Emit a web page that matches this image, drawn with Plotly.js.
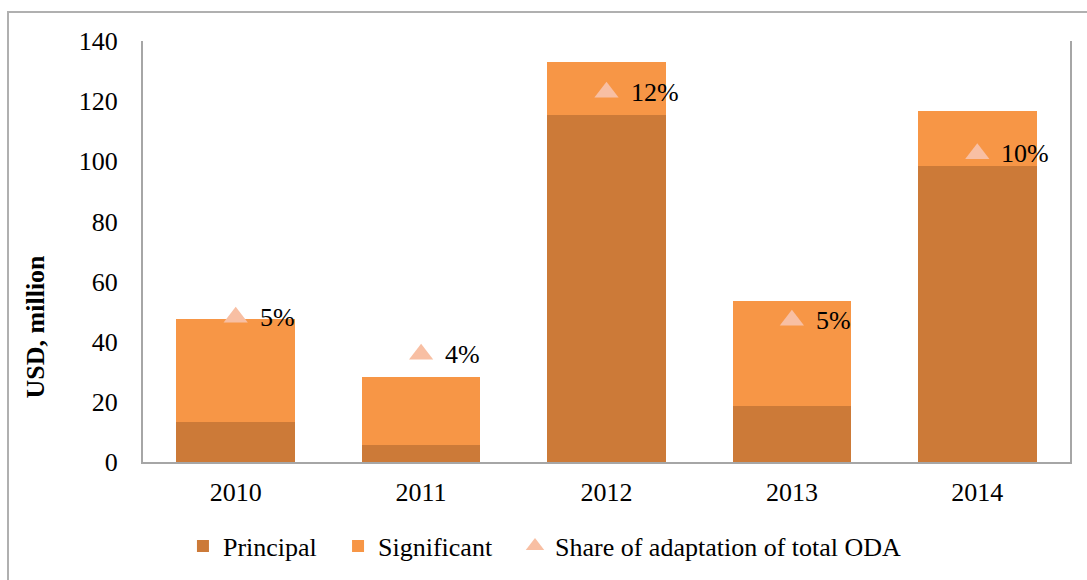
<!DOCTYPE html>
<html>
<head>
<meta charset="utf-8">
<script src="https://cdn.plot.ly/plotly-3.0.1.min.js"></script>
<style>
  html, body { margin: 0; padding: 0; background: #fff; }
  #wrap { position: relative; width: 1087px; height: 580px; overflow: hidden; }
  #frame { position: absolute; left: 7px; top: 11px; width: 1200px; height: 700px; border: 2px solid #B0B0B0; box-sizing: border-box; }
  #chart { position: absolute; left: 0; top: 0; width: 1087px; height: 580px; }
</style>
</head>
<body>
<div id="wrap">
  <div id="frame"></div>
  <div id="chart"></div>
</div>
<script>
const years = ['2010', '2011', '2012', '2013', '2014'];
const principal = [13.2, 5.6, 115.3, 18.7, 98.5];
const significant = [34.5, 22.7, 17.7, 35.0, 18.3];
const sharePct = [4.7, 3.5, 12.0, 4.6, 10.0];
const shareLabels = sharePct.map(v => Math.round(v) + '%');
const yTicks = [0, 20, 40, 60, 80, 100, 120, 140];

const serif = '"Liberation Serif", "Times New Roman", serif';
const fs = 26;

const traces = [
  {
    type: 'bar', name: 'Principal', x: years, y: principal, legend: 'legend',
    marker: { color: '#CC7A38', line: { width: 0 } }
  },
  {
    type: 'bar', name: 'Significant', x: years, y: significant, legend: 'legend2',
    marker: { color: '#F79646', line: { width: 0 } }
  },
  {
    type: 'scatter', mode: 'markers', name: 'Share of adaptation of total ODA',
    x: years, y: sharePct, yaxis: 'y2', legend: 'legend3',
    marker: { symbol: 'triangle-up', size: 21, color: '#F8BFA3', line: { width: 0 } }
  }
];

// category axes: annotation x given as category index
const annotations = years.map((yr, i) => ({
  x: i, y: sharePct[i], xref: 'x', yref: 'y2',
  text: shareLabels[i], showarrow: false,
  xanchor: 'left', yanchor: 'middle', xshift: 22, yshift: 0,
  font: { family: serif, size: fs, color: '#000' }
}));
annotations.push({
  xref: 'paper', yref: 'paper', x: -0.1165, y: 0.322,
  xanchor: 'center', yanchor: 'middle', textangle: -90, showarrow: false,
  text: '<b>USD, million</b>',
  font: { family: serif, size: 26, color: '#000' }
});

const legendBase = {
  orientation: 'h', xanchor: 'left', y: -0.141, yanchor: 'top',
  font: { family: serif, size: fs, color: '#000' },
  itemwidth: 30, bgcolor: 'rgba(0,0,0,0)'
};

const layout = {
  width: 1087, height: 580,
  margin: { l: 143, r: 17, t: 41, b: 117 },
  paper_bgcolor: 'rgba(0,0,0,0)',
  plot_bgcolor: '#fff',
  barmode: 'stack',
  bargap: 0.36,
  font: { family: serif, size: fs, color: '#000' },
  xaxis: {
    type: 'category', range: [-0.5, 4.5],
    showline: true, linecolor: '#A6A6A6', linewidth: 2,
    ticks: '', ticklabelstandoff: 6,
    tickfont: { family: serif, size: fs, color: '#000' },
    showgrid: false, zeroline: false
  },
  yaxis: {
    range: [0, 140], tickvals: yTicks, ticktext: yTicks.map(String),
    showline: true, mirror: true, linecolor: '#A6A6A6', linewidth: 2,
    ticks: '', ticklabelstandoff: 18,
    tickfont: { family: serif, size: fs, color: '#000' },
    showgrid: false, zeroline: false
  },
  yaxis2: {
    overlaying: 'y', side: 'right', range: [0, 13.66],
    visible: false, showgrid: false, zeroline: false
  },
  showlegend: true,
  legend: Object.assign({}, legendBase, { x: 0.0431 }),
  legend2: Object.assign({}, legendBase, { x: 0.2104 }),
  legend3: Object.assign({}, legendBase, { x: 0.4013 }),
  annotations: annotations
};

Plotly.newPlot('chart', traces, layout, { displayModeBar: false, staticPlot: true });
</script>
</body>
</html>
